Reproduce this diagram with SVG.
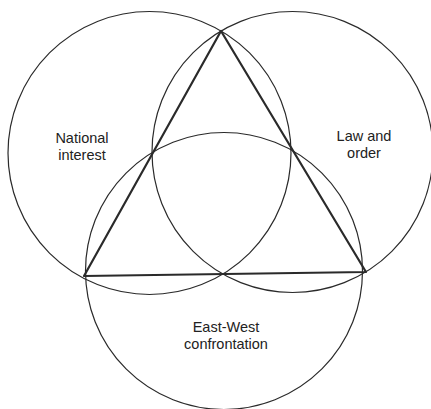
<svg xmlns="http://www.w3.org/2000/svg" width="431" height="409" viewBox="0 0 431 409">
<style>
.c{fill:none;stroke:#2a2a2a;stroke-width:1.2}
.t{fill:none;stroke:#2a2a2a;stroke-width:2.2;stroke-linejoin:round}
text{font-family:"Liberation Sans",Arial,sans-serif;font-size:14.5px;fill:#222;text-anchor:middle}
</style>
<rect width="431" height="409" fill="#fff"/>
<g id="national-interest">
<circle class="c" cx="149.5" cy="153" r="141.5"/>
<text x="82" y="143">National</text>
<text x="82" y="160">interest</text>
</g>
<g id="law-and-order">
<circle class="c" cx="292.5" cy="152" r="140.5"/>
<text x="364" y="141">Law and</text>
<text x="364" y="158">order</text>
</g>
<g id="east-west-confrontation">
<circle class="c" cx="224" cy="271" r="138.5"/>
<text x="226" y="332">East-West</text>
<text x="226" y="349">confrontation</text>
</g>
<g id="connectors">
<polygon class="t" points="221,31 84,276 366,272"/>
</g>
</svg>
